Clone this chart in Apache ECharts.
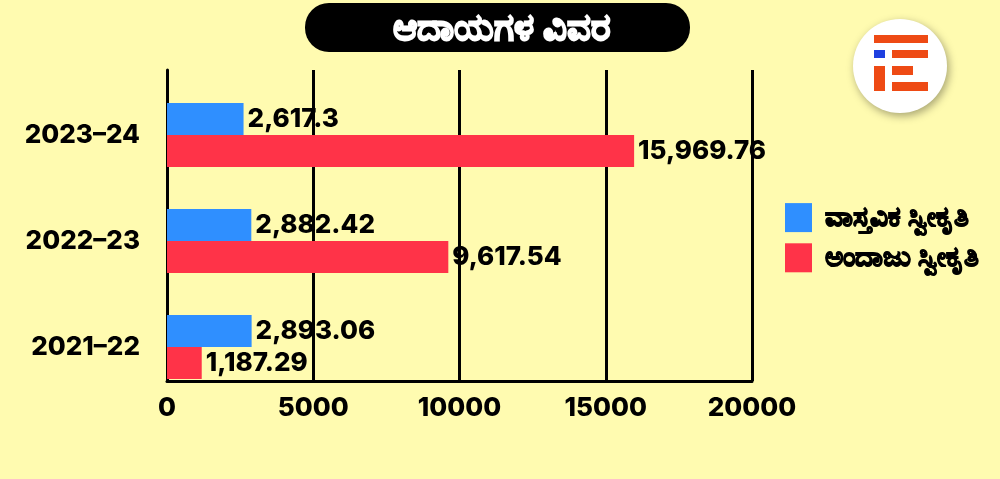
<!DOCTYPE html>
<html>
<head>
<meta charset="utf-8">
<script src="https://cdn.jsdelivr.net/npm/echarts@6/dist/echarts.min.js"></script>
<style>
html,body{margin:0;padding:0;background:#FFFBB0;}
#c{width:1000px;height:479px;}
</style>
</head>
<body>
<div id="c"></div>
<script>
// ---- data ----
const titleText = 'ಆದಾಯಗಳ ವಿವರ';
const categories = ['2021–22', '2022–23', '2023–24'];
const seriesNames = ['ವಾಸ್ತವಿಕ ಸ್ವೀಕೃತಿ', 'ಅಂದಾಜು ಸ್ವೀಕೃತಿ'];
const actualValues = [2893.06, 2882.42, 2617.3];
const estimateValues = [1187.29, 9617.54, 15969.76];
const xMin = 0;
const xMax = 20000;
const xInterval = 5000;

// ---- style ----
const FONT = 'Inter, "Noto Sans", sans-serif';
const BLUE = '#2F8FFF';
const RED = '#FF3348';
const INK = '#000000';
const fmt = v => v.toLocaleString('en-US', { maximumFractionDigits: 2 });

const chart = echarts.init(document.getElementById('c'));

const labelStyle = {
  show: true,
  position: 'right',
  distance: 4,
  color: INK,
  fontFamily: FONT,
  fontWeight: 800,
  fontSize: 26,
  formatter: p => fmt(p.value)
};

chart.setOption({
  backgroundColor: '#FFFBB0',
  animation: false,
  title: {
    text: titleText,
    left: 497,
    top: 5,
    textAlign: 'center',
    textStyle: {
      color: '#FFFFFF', fontSize: 37, fontWeight: 'bold', fontFamily: FONT,
      textBorderColor: '#FFFFFF', textBorderWidth: 1.6
    }
  },
  graphic: [
    { type: 'rect', z: -1, shape: { x: 305, y: 3, width: 385, height: 49, r: 24 }, style: { fill: '#000000' } },
    {
      type: 'group',
      children: [
        { type: 'circle', shape: { cx: 900, cy: 66, r: 47 },
          style: { fill: '#FFFFFF', shadowBlur: 8, shadowColor: 'rgba(0,0,0,0.35)', shadowOffsetX: 2, shadowOffsetY: 3 } },
        { type: 'rect', shape: { x: 874, y: 35, width: 54, height: 8 }, style: { fill: '#EE4A14' } },
        { type: 'rect', shape: { x: 874, y: 50, width: 11, height: 8 }, style: { fill: '#1E3FE0' } },
        { type: 'rect', shape: { x: 892, y: 50, width: 36, height: 8 }, style: { fill: '#EE4A14' } },
        { type: 'rect', shape: { x: 874, y: 66, width: 11, height: 25 }, style: { fill: '#EE4A14' } },
        { type: 'rect', shape: { x: 892, y: 66, width: 21, height: 9 }, style: { fill: '#EE4A14' } },
        { type: 'rect', shape: { x: 892, y: 82, width: 36, height: 9 }, style: { fill: '#EE4A14' } }
      ]
    }
  ],
  legend: {
    data: seriesNames,
    orient: 'vertical',
    left: 780,
    top: 198,
    icon: 'rect',
    itemWidth: 27,
    itemHeight: 29,
    itemGap: 11,
    textStyle: {
      color: INK, fontSize: 28, fontWeight: 'bold', fontFamily: FONT, padding: [0, 0, 0, 8],
      textBorderColor: INK, textBorderWidth: 1.2
    }
  },
  grid: [
    { left: 167, width: 585, top: 82, height: 318 },
    { left: 167, width: 585, top: 70, height: 311 }
  ],
  xAxis: [
    { type: 'value', gridIndex: 0, min: xMin, max: xMax, interval: xInterval, show: false },
    {
      type: 'value', gridIndex: 1, min: xMin, max: xMax, interval: xInterval,
      axisLine: { show: true, lineStyle: { color: INK, width: 3 } },
      axisTick: { show: false },
      splitLine: { show: true, lineStyle: { color: INK, width: 3 } },
      axisLabel: { color: INK, fontSize: 26, fontWeight: 800, fontFamily: FONT, margin: 14, formatter: v => String(v) }
    }
  ],
  yAxis: [
    {
      type: 'category', gridIndex: 0, data: categories,
      axisLine: { show: false }, axisTick: { show: false },
      axisLabel: { color: INK, fontSize: 26, fontWeight: 800, fontFamily: FONT, margin: 27 }
    },
    {
      type: 'value', gridIndex: 1, min: 0, max: 1,
      axisLine: { show: true, lineStyle: { color: INK, width: 3 } },
      axisTick: { show: false }, axisLabel: { show: false }, splitLine: { show: false }
    }
  ],
  series: [
    {
      name: seriesNames[0], type: 'bar', xAxisIndex: 0, yAxisIndex: 0,
      data: actualValues, barWidth: 32, barGap: '0%',
      itemStyle: { color: BLUE }, label: labelStyle
    },
    {
      name: seriesNames[1], type: 'bar', xAxisIndex: 0, yAxisIndex: 0,
      data: estimateValues, barWidth: 32, barGap: '0%',
      itemStyle: { color: RED }, label: labelStyle
    }
  ]
});
</script>
</body>
</html>
